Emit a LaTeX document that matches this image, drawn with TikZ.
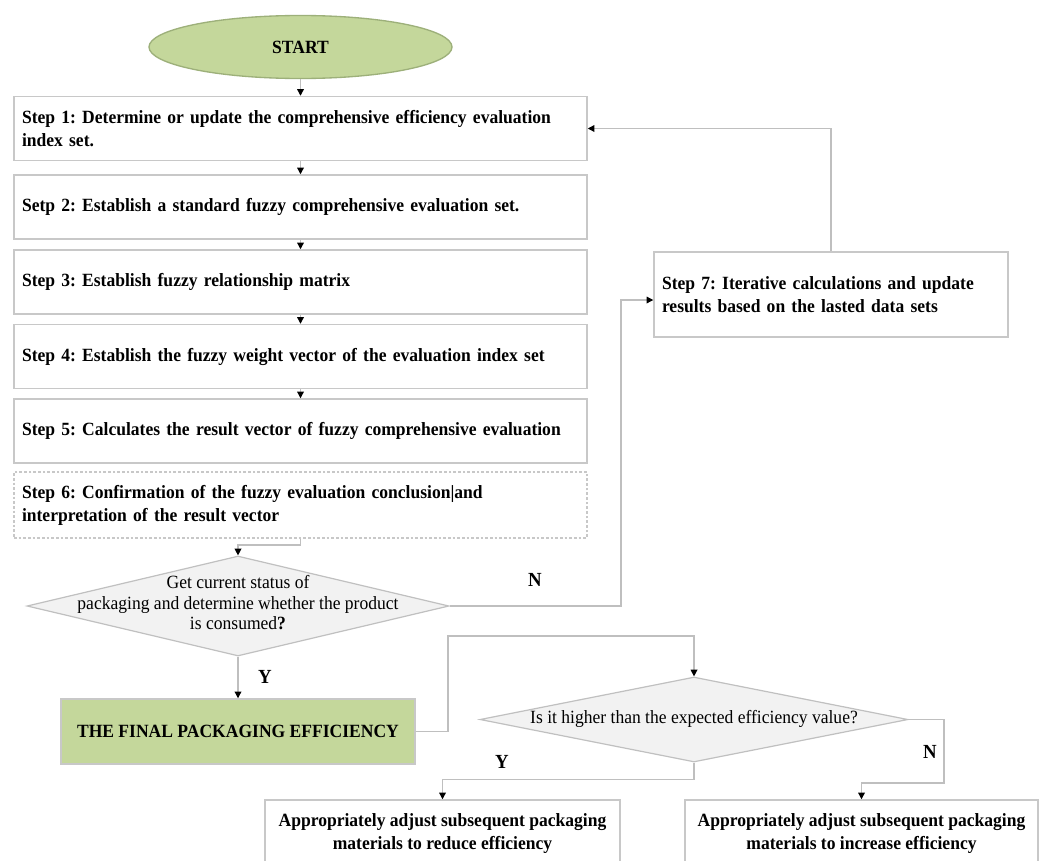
\documentclass[tikz,border=0pt]{standalone}
\usepackage{fontspec}
\setmainfont{Liberation Serif}[FakeStretch=0.94]
\usetikzlibrary{shapes.geometric,arrows.meta}
\definecolor{boxline}{HTML}{C8C8C8}
\definecolor{connline}{HTML}{BFBFBF}
\definecolor{greenfill}{HTML}{C4D79B}
\definecolor{greenline}{HTML}{9DB07A}
\definecolor{diafill}{HTML}{F2F2F2}
\definecolor{dialine}{HTML}{C0C0C0}
\newcommand{\pxu}{0.75pt}
\frenchspacing
\begin{document}
\begin{tikzpicture}[x=0.75pt,y=-0.75pt,
  stepbox/.style={draw=boxline, line width=1.1pt, fill=white, rectangle,
    minimum width=573*\pxu, minimum height=64*\pxu, text width=557*\pxu,
    align=left, inner xsep=6*\pxu, inner ysep=0pt,
    font=\fontsize{14}{17.25}\selectfont\bfseries},
  sidebox/.style={draw=boxline, line width=1.1pt, fill=white, rectangle,
    minimum height=68*\pxu, inner sep=0pt, align=center,
    font=\fontsize{14}{17.25}\selectfont\bfseries},
  dia/.style={diamond, draw=dialine, line width=0.9pt, fill=diafill, inner sep=0pt},
  diatext/.style={align=center, inner sep=0pt, font=\fontsize{14}{15.4}\selectfont},
  conn/.style={draw=connline, line width=0.9pt, -{Triangle[length=5pt,width=5pt,color=black]}},
  lbl/.style={inner sep=0pt, font=\fontsize{15}{17}\selectfont\bfseries}
]
\useasboundingbox (0,0) rectangle (1044,860);
\clip (0,0) rectangle (1044,860);
\fill[white] (0,0) rectangle (1044,860);

% start
\node[ellipse, draw=greenline, line width=1pt, fill=greenfill, minimum width=303*\pxu,
  minimum height=63*\pxu, inner sep=0pt, font=\fontsize{14}{16}\selectfont\bfseries]
  (start) at (300.5,47) {START};

% steps
\node[stepbox] (s1) at (300.5,128.5) {Step 1: Determine or update the comprehensive efficiency evaluation\\index set.};
\node[stepbox] (s2) at (300.5,207) {Setp 2: Establish a standard fuzzy comprehensive evaluation set.};
\node[stepbox] (s3) at (300.5,282) {Step 3: Establish fuzzy relationship matrix};
\node[stepbox] (s4) at (300.5,356.5) {Step 4: Establish the fuzzy weight vector of the evaluation index set};
\node[stepbox] (s5) at (300.5,431) {Step 5: Calculates the result vector of fuzzy comprehensive evaluation};
\node[stepbox, draw=boxline, dash pattern=on 2pt off 1.5pt, line width=0.9pt, minimum height=66*\pxu] (s6) at (300.5,505)
  {Step 6: Confirmation of the fuzzy evaluation conclusion|and\\interpretation of the result vector};

% step 7
\node[stepbox, minimum width=354*\pxu, minimum height=85*\pxu, text width=338*\pxu] (s7) at (831,294.5)
  {Step 7: Iterative calculations and update\\results based on the lasted data sets};

% decision 1
\node[dia, minimum width=422*\pxu, minimum height=100*\pxu] (d1) at (238,606) {};
\node[diatext] (d1t) at (238,603) {Get current status of\\packaging and determine whether the product\\is consumed\textbf{?}};

% final
\node[draw=boxline, line width=1.1pt, fill=greenfill, minimum width=354*\pxu, minimum height=65*\pxu,
  inner sep=0pt, font=\fontsize{14}{16}\selectfont\bfseries] (final) at (238,731.5) {THE FINAL PACKAGING EFFICIENCY};

% decision 2
\node[dia, minimum width=428*\pxu, minimum height=85*\pxu] (d2) at (694,719.5) {};
\node[diatext] (d2t) at (694,719) {Is it higher than the expected efficiency value?};

% bottom boxes
\node[sidebox, minimum width=355*\pxu] (bl) at (442.5,834) {Appropriately adjust subsequent packaging\\materials to reduce efficiency};
\node[sidebox, minimum width=353*\pxu] (br) at (861.5,834) {Appropriately adjust subsequent packaging\\materials to increase efficiency};

% junctions
\coordinate (j1) at (300.5,545);
\coordinate (j2) at (621,450);
\coordinate (j3) at (448,636);
\coordinate (j4) at (944,783);

% connectors
\draw[conn] (start.south) -- (s1.north);
\draw[conn] (s1.south) -- (s2.north);
\draw[conn] (s2.south) -- (s3.north);
\draw[conn] (s3.south) -- (s4.north);
\draw[conn] (s4.south) -- (s5.north);
\draw[conn] (s6.south) -- (j1) -| (d1.north);
\draw[conn] (d1.east) -| (j2) |- ([yshift=-5.5*\pxu]s7.west);
\draw[conn] (s7.north) |- (s1.east);
\draw[conn] (d1.south) -- (final.north);
\draw[conn] (final.east) -| (j3) -| (d2.north);
\draw[conn] (d2.south) -- ++(0,17) -| (bl.north);
\draw[conn] (d2.east) -| (j4) -| (br.north);

% labels
\node[lbl] (y1) at (265,677) {Y};
\node[lbl] (n1) at (535,580) {N};
\node[lbl] (y2) at (502,762) {Y};
\node[lbl] (n2) at (930,752) {N};
\end{tikzpicture}
\end{document}
